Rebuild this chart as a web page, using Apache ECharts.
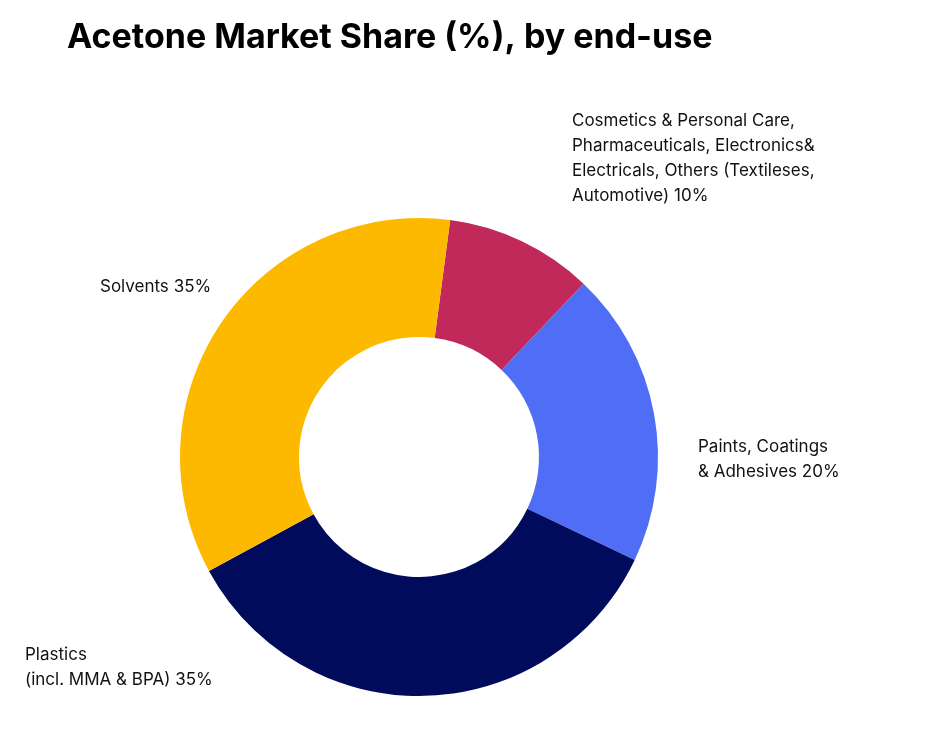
<!DOCTYPE html>
<html lang="en">
<head>
	<meta charset="UTF-8">
	<title>Acetone Market Share</title>
	<script src="https://cdn.jsdelivr.net/npm/echarts@6/dist/echarts.min.js"></script>
	<style>
		html, body { margin: 0; padding: 0; background: #fff; }
		#chart { width: 945px; height: 747px; }
	</style>
</head>
<body>
<div id="chart"></div>
<script>
    var names = [
        'Cosmetics & Personal Care,\nPharmaceuticals, Electronics&\nElectricals, Others (Textileses,\nAutomotive)',
        'Paints, Coatings\n& Adhesives',
        'Plastics\n(incl. MMA & BPA)',
        'Solvents'
    ];
    var shares = [10, 20, 35, 35];
    var colors = ['#C0295A', '#4F6EF5', '#010B5C', '#FDB900'];
    // where each label block sits (top-left)
    var labelPos = [[572, 108], [698, 434], [25, 642], [100, 274]];

    var chart = echarts.init(document.getElementById('chart'));
    chart.setOption({
        title: {
            text: 'Acetone Market Share (%), by end-use',
            left: 62,
            top: 16,
            textStyle: { fontFamily: 'Inter', fontSize: 34, fontWeight: 'bold', color: '#000' }
        },
        series: [{
            type: 'pie',
            center: [419, 457],
            radius: [120, 239],
            startAngle: 82.5,
            clockwise: true,
            silent: true,
            data: names.map(function (n, i) {
                return { name: n, value: shares[i], itemStyle: { color: colors[i] } };
            }),
            label: {
                show: true,
                formatter: '{b} {c}%',
                fontFamily: 'Inter',
                fontSize: 17,
                lineHeight: 25,
                color: '#111'
            },
            labelLine: { show: false },
            labelLayout: function (p) {
                var pos = labelPos[p.dataIndex];
                return { x: pos[0], y: pos[1], align: 'left', verticalAlign: 'top' };
            }
        }]
    });
</script>
</body>
</html>
